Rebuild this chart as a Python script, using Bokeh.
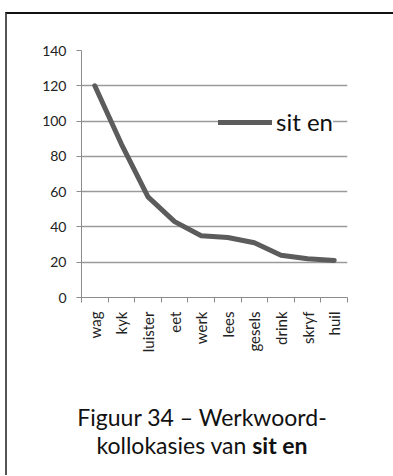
import math
from bokeh.plotting import figure
from bokeh.models import (ColumnDataSource, FixedTicker, Legend, LegendItem, Range1d, Div)
from bokeh.layouts import column
from bokeh.embed import file_html
from bokeh.resources import INLINE

# ---- data ----
verbs = ["wag", "kyk", "luister", "eet", "werk", "lees", "gesels", "drink", "skryf", "huil"]
counts = [120, 87, 57, 43, 35, 34, 31, 24, 22, 21]
y_ticks = [0, 20, 40, 60, 80, 100, 120, 140]
series_name = "sit en"
caption_1 = "Figuur 34 – Werkwoord-"
caption_2a = "kollokasies van"
caption_2b = "sit en"

xs = [i + 0.5 for i in range(len(verbs))]
src = ColumnDataSource(dict(x=xs, y=counts))

FONT = "Lato"

p = figure(width=380, height=343, output_backend="svg", toolbar_location=None,
           x_range=Range1d(0, len(verbs)), y_range=Range1d(0, 140),
           min_border_left=74, min_border_right=40, min_border_top=36,
           min_border_bottom=60)
p.outline_line_color = None
p.background_fill_color = "white"
p.border_fill_color = "white"

r = p.line("x", "y", source=src, line_color="#5c5c5c", line_width=5,
           line_join="round", line_cap="round")

# y axis
ya = p.yaxis[0]
ya.ticker = FixedTicker(ticks=y_ticks)
ya.axis_line_color = "#8c8c8c"
ya.major_tick_line_color = "#8c8c8c"
ya.major_tick_in = 0
ya.major_tick_out = 5
ya.minor_tick_line_color = None
ya.major_label_text_font = FONT
ya.major_label_text_font_size = "14px"
ya.major_label_text_color = "#222"
ya.major_label_standoff = 10

# x axis: labels at centres, ticks at boundaries (minor)
xa = p.xaxis[0]
xa.ticker = FixedTicker(ticks=xs, minor_ticks=list(range(len(verbs) + 1)))
xa.major_label_overrides = {x: v for x, v in zip(xs, verbs)}
xa.major_label_orientation = math.pi / 2
xa.axis_line_color = "#8c8c8c"
xa.major_tick_line_color = None
xa.minor_tick_line_color = "#8c8c8c"
xa.minor_tick_in = 0
xa.minor_tick_out = 5
xa.major_label_text_font = FONT
xa.major_label_text_font_size = "15px"
xa.major_label_text_color = "#222"
xa.major_label_standoff = 8

p.xgrid.grid_line_color = None
p.ygrid.ticker = FixedTicker(ticks=y_ticks[1:])
p.ygrid.grid_line_color = "#9a9a9a"
p.ygrid.grid_line_width = 1.5

legend = Legend(items=[LegendItem(label=series_name, renderers=[r])],
                location=(137, 161), padding=22, margin=0, spacing=0,
                glyph_width=54, glyph_height=24, label_height=24,
                label_standoff=4, border_line_color=None,
                background_fill_color="white", background_fill_alpha=1,
                label_text_font=FONT, label_text_font_size="24px",
                label_text_color="#111")
p.add_layout(legend, "center")

caption = Div(
    text=f"{caption_1}<br>{caption_2a} <b>{caption_2b}</b>",
    width=380, height=108,
    styles={"text-align": "center", "font-family": FONT, "font-size": "23px",
            "line-height": "28px", "color": "#111", "padding-top": "41px",
            "width": "380px"})

page = column(p, caption, spacing=0,
              styles={"border-top": "2px solid #111", "border-left": "2px solid #555",
                      "margin-top": "12px", "margin-left": "5px"})

open("out.html", "w").write(file_html(page, INLINE))
